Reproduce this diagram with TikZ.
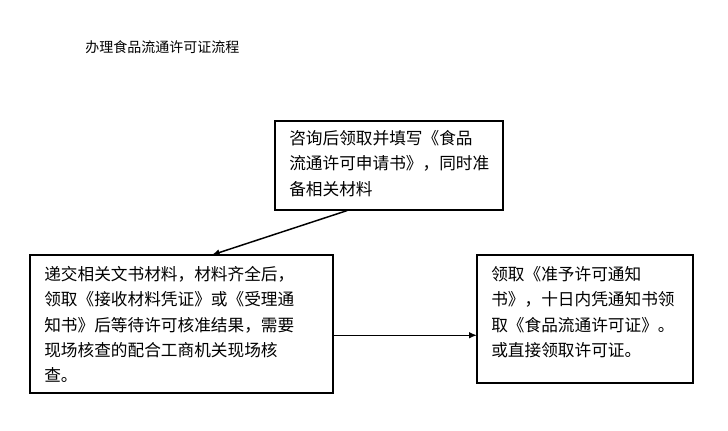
\documentclass[tikz,border=0pt]{standalone}
\usepackage{fontspec}
\setmainfont{Noto Sans CJK SC}
\usetikzlibrary{arrows.meta,calc}
\begin{document}
\begin{tikzpicture}[x=0.75pt,y=-0.75pt,
  txt/.style={anchor=north west,align=left,font=\fontsize{12.5pt}{19pt}\selectfont,inner sep=0pt},
  arr/.style={line width=1.1pt,-{Latex[length=6pt,width=5pt]}}]
\useasboundingbox (0,0) rectangle (728,430);
\node[anchor=west,inner sep=0pt,font=\fontsize{10.5pt}{12pt}\selectfont] (title) at (85,47) {办理食品流通许可证流程};
\draw[line width=0.8pt] (275,121) rectangle (503,210);
\node (b1) [minimum width=228*0.75pt,minimum height=89*0.75pt,anchor=north west,inner sep=0pt] at (275,121) {};
\node[txt] (t1) at (289,130) {咨询后领取并填写《食品\\流通许可申请书》，同时准\\备相关材料};
\draw[line width=0.8pt] (30,255) rectangle (333,393);
\node (b2) [minimum width=303*0.75pt,minimum height=138*0.75pt,anchor=north west,inner sep=0pt] at (30,255) {};
\node[txt] (t2) at (44,266) {递交相关文书材料，材料齐全后，\\领取《接收材料凭证》或《受理通\\知书》后等待许可核准结果，需要\\现场核查的配合工商机关现场核\\查。};
\draw[line width=0.8pt] (477,255) rectangle (693,383);
\node (b3) [minimum width=216*0.75pt,minimum height=128*0.75pt,anchor=north west,inner sep=0pt] at (477,255) {};
\node[txt] (t3) at (491,266) {领取《准予许可通知\\书》，十日内凭通知书领\\取《食品流通许可证》。\\或直接领取许可证。};
\draw[arr] ($(b1.south)+(-42,0)$) -- ($(b2.north)+(30,0)$);
\coordinate (c2) at ($(b2.east)+(0,11)$);
\draw[arr] (c2) -- (c2 -| b3.west);
\end{tikzpicture}
\end{document}
